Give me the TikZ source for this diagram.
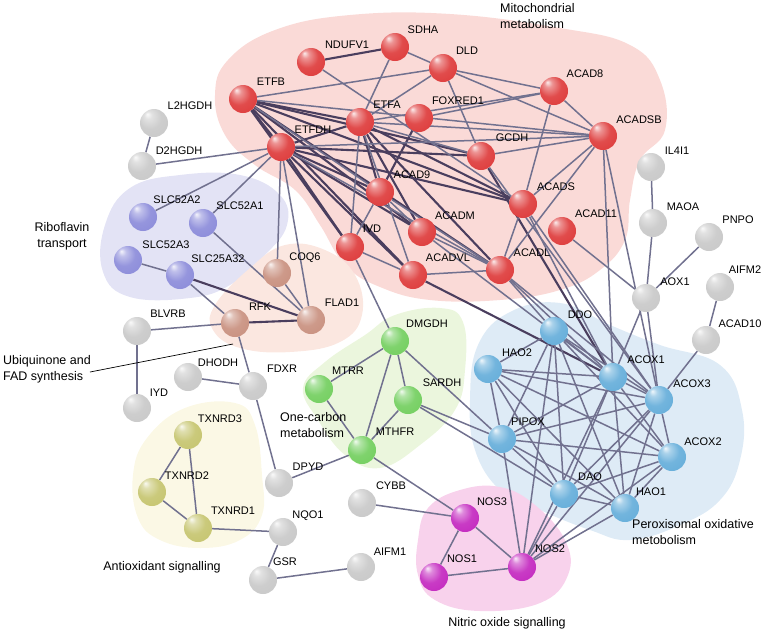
\documentclass[tikz,border=0pt]{standalone}
\usepackage{fontspec}
\setmainfont{Liberation Sans}
\pgfdeclarelayer{bg}\pgfdeclarelayer{edges}
\pgfsetlayers{bg,edges,main}
\makeatletter
\pgfdeclareradialshading[tikz@ball]{sphere}{\pgfqpoint{-12bp}{16bp}}{%
  color(0bp)=(tikz@ball!10!white); color(7bp)=(tikz@ball!55!white);
  color(20bp)=(tikz@ball!92!white); color(36bp)=(tikz@ball);
  color(45bp)=(tikz@ball!78!black); color(50bp)=(tikz@ball!55!black)}
\makeatother
\definecolor{cred}{HTML}{DE3C3C}
\definecolor{cgray}{HTML}{C9C9C9}
\definecolor{clav}{HTML}{8C8CDA}
\definecolor{cbrown}{HTML}{C99180}
\definecolor{cgreen}{HTML}{74CF60}
\definecolor{cyel}{HTML}{C6C570}
\definecolor{cblue}{HTML}{66AEDA}
\definecolor{cmag}{HTML}{C42AC0}
\definecolor{bred}{HTML}{FADAD7}
\definecolor{blav}{HTML}{E3E3F5}
\definecolor{bpeach}{HTML}{FBE7E0}
\definecolor{bgreen}{HTML}{EBF6DD}
\definecolor{byel}{HTML}{FBF8E5}
\definecolor{bblue}{HTML}{DEEBF6}
\definecolor{bpink}{HTML}{F8D2EC}
\definecolor{edgec}{HTML}{71718F}
\definecolor{edged}{HTML}{4A3E5E}
\begin{document}
\begin{tikzpicture}[x=1pt,y=-1pt,
  ball/.style={circle,minimum size=28pt,inner sep=0pt,ball color=#1,shading=sphere},
  lab/.style={font=\fontsize{11}{13}\selectfont,inner sep=0pt},
  rlab/.style={font=\fontsize{12.5}{16}\selectfont,inner sep=0pt},
  ee/.style={draw=edgec,line width=1.5pt},
  EE/.style={draw=edged,line width=2.1pt}]
\useasboundingbox (0,0) rectangle (784,633);
% ---- nodes
\foreach \n/\x/\y in {NDUFV1/311/62,SDHA/395/47,DLD/443/68,ETFB/243/99,ETFA/360/122,FOXRED1/419/118,ETFDH/281/147,GCDH/481/156,ACAD8/554/91,ACADSB/603/136,ACAD9/380/192,ACADS/523/204,ACAD11/562/231,ACADM/422/232,IVD/350/247,ACADVL/413/275,ACADL/500/270}
  \node[ball=cred] (\n) at (\x,\y) {};
\foreach \n/\x/\y in {L2HGDH/154/123,D2HGDH/142/166,BLVRB/137/331,IYD/137/408,DHODH/188/377,FDXR/253/386,DPYD/279/483,NQO1/283/532,GSR/263/580,AIFM1/361/567,CYBB/362/503,IL4I1/651/167,MAOA/653/223,PNPO/709/237,AOX1/646/298,AIFM2/720/287,ACAD10/706/340}
  \node[ball=cgray] (\n) at (\x,\y) {};
\foreach \n/\x/\y in {SLC52A2/143/217,SLC52A1/203/223,SLC52A3/128/260,SLC25A32/180/275}
  \node[ball=clav] (\n) at (\x,\y) {};
\foreach \n/\x/\y in {COQ6/277/273,RFK/235/323,FLAD1/311/320}
  \node[ball=cbrown] (\n) at (\x,\y) {};
\foreach \n/\x/\y in {DMGDH/395/341,MTRR/319/389,SARDH/408/400,MTHFR/362/450}
  \node[ball=cgreen] (\n) at (\x,\y) {};
\foreach \n/\x/\y in {TXNRD3/188/435,TXNRD2/152/492,TXNRD1/198/528}
  \node[ball=cyel] (\n) at (\x,\y) {};
\foreach \n/\x/\y in {DDO/554/331,HAO2/488/369,ACOX1/613/377,ACOX3/659/400,PIPOX/502/439,ACOX2/672/457,DAO/564/494,HAO1/625/508}
  \node[ball=cblue] (\n) at (\x,\y) {};
\foreach \n/\x/\y in {NOS3/465/518,NOS1/434/577,NOS2/522/567}
  \node[ball=cmag] (\n) at (\x,\y) {};
% ---- labels
\foreach \n/\x/\y in {NDUFV1/347/45,SDHA/423/30,DLD/467/51,ETFB/271/82,ETFA/387/105,FOXRED1/458/101,ETFDH/313/130,GCDH/512/138,ACAD8/585/74,ACADSB/639/120,ACAD9/412/175,ACADS/556/187,ACAD11/596/214,ACADM/455/216,IVD/372/229,ACADVL/448/258,ACADL/532/253,L2HGDH/190/106,D2HGDH/179/151,SLC52A2/177/200,SLC52A1/240/206,SLC52A3/166/245,SLC25A32/218/259,COQ6/305/258,RFK/260/307,FLAD1/342/303,BLVRB/168/314,IYD/159/393,DHODH/218/363,FDXR/282/369,DPYD/308/467,NQO1/308/516,GSR/285/562,AIFM1/390/552,CYBB/391/486,TXNRD3/220/419,TXNRD2/187/476,TXNRD1/233/511,DMGDH/427/324,MTRR/348/371,SARDH/442/383,MTHFR/395/432,IL4I1/677/151,MAOA/683/207,PNPO/738/220,AOX1/675/282,AIFM2/745/270,ACAD10/740/324,DDO/580/315,HAO2/517/353,ACOX1/646/360,ACOX3/692/384,PIPOX/528/422,ACOX2/703/442,DAO/590/477,HAO1/651/492,NOS3/492/502,NOS1/462/559,NOS2/550/549}
  \node[lab] (l\n) at (\x,\y) {\n};
% ---- region labels
\node[rlab,anchor=west,align=left] (rMito) at (500,16) {Mitochondrial\\metabolism};
\node[rlab,align=center] (rRibo) at (62,236) {Riboflavin\\transport};
\node[rlab,anchor=west,align=left] (rUbq) at (3,369) {Ubiquinone and\\FAD synthesis};
\node[rlab,anchor=west,align=left] (rOne) at (280,425) {One-carbon\\metabolism};
\node[rlab] (rAnti) at (162,567) {Antioxidant signalling};
\node[rlab] (rNitric) at (507,623) {Nitric oxide signalling};
\node[rlab,anchor=west,align=left] (rPerox) at (632,532) {Peroxisomal oxidative\\metobolism};
\coordinate (ubqA) at (90,372);
\coordinate (ubqB) at (233,344);
\draw[black,line width=0.7pt] (ubqA) -- (ubqB);
% ---- edges
\begin{pgfonlayer}{edges}
\foreach \a/\b in {ETFB/ETFDH,ETFB/ETFA,ETFA/ETFDH,FOXRED1/ACAD9,ETFA/ACAD9,ETFB/ACADM,ETFB/ACADS,ETFB/ACADL,ETFB/ACADVL,ETFB/IVD,ETFB/GCDH,ETFDH/ACADM,ETFDH/ACADVL,ETFDH/ACADS,ETFDH/IVD,ETFDH/GCDH,ETFDH/ACAD9,ETFA/ACADM,ETFA/ACADS,ETFA/ACADL,NDUFV1/SDHA,ACADVL/ACOX1,GCDH/ACOX1,SLC25A32/FLAD1,RFK/FLAD1}
  \draw[EE] (\a) -- (\b);
\foreach \a/\b in {NDUFV1/ACADS,SDHA/DLD,SDHA/ETFA,DLD/ETFB,DLD/ETFA,DLD/GCDH,DLD/ACAD8,DLD/ACADSB,FOXRED1/ACAD8,ETFA/ACAD8,ETFA/ACADSB,ETFA/GCDH,ETFA/IVD,ETFA/ACADVL,ETFB/ACAD9,ETFB/ACADSB,ETFDH/ACADL,ETFDH/ACADSB,ACAD8/ACADSB,ACAD8/ACADS,GCDH/ACADSB,ACADSB/ACADS,ACADSB/ACADL,ACADS/ACADL,ACAD9/IVD,ACAD9/ACADM,ACAD9/ACADL,ACADM/ACADL,ACADVL/ACADL,IVD/ACADVL,IVD/DMGDH,ETFDH/D2HGDH,L2HGDH/D2HGDH,ETFDH/SLC52A2,ETFDH/SLC52A1,ETFDH/COQ6,ETFDH/FLAD1,ACADL/ACOX1,ACADL/ACOX3,ACADL/DDO,ACADS/ACOX1,ACADS/ACOX3,ACADSB/ACOX1,ACADSB/ACOX3,ACAD11/AOX1,GCDH/ACOX3,ACADM/ACOX1,SLC52A1/FLAD1,SLC52A3/SLC25A32,SLC25A32/RFK,COQ6/FLAD1,RFK/BLVRB,BLVRB/IYD,RFK/FDXR,DHODH/FDXR,FDXR/DPYD,DPYD/MTHFR,DMGDH/SARDH,DMGDH/MTRR,DMGDH/MTHFR,SARDH/MTHFR,MTRR/MTHFR,MTHFR/NOS3,DMGDH/PIPOX,SARDH/PIPOX,SARDH/DAO,TXNRD3/TXNRD2,TXNRD3/TXNRD1,TXNRD2/TXNRD1,TXNRD1/NQO1,NQO1/GSR,GSR/AIFM1,CYBB/NOS3,NOS3/NOS1,NOS3/NOS2,NOS1/NOS2,IL4I1/MAOA,MAOA/AOX1,PNPO/AOX1,AIFM2/ACAD10,ACAD10/ACOX3,AOX1/ACOX1,AOX1/ACOX3,NOS2/PIPOX,NOS2/DDO,NOS2/DAO,NOS2/HAO1,NOS2/ACOX2,NOS2/ACOX1,NOS2/ACOX3,DDO/HAO2,DDO/ACOX1,DDO/ACOX3,DDO/PIPOX,DDO/ACOX2,DDO/DAO,DDO/HAO1,HAO2/ACOX1,HAO2/ACOX3,HAO2/PIPOX,HAO2/ACOX2,HAO2/DAO,HAO2/HAO1,ACOX1/ACOX3,ACOX1/PIPOX,ACOX1/ACOX2,ACOX1/DAO,ACOX1/HAO1,ACOX3/PIPOX,ACOX3/ACOX2,ACOX3/DAO,ACOX3/HAO1,PIPOX/ACOX2,PIPOX/DAO,PIPOX/HAO1,ACOX2/DAO,ACOX2/HAO1,DAO/HAO1}
  \draw[ee] (\a) -- (\b);
\end{pgfonlayer}
% ---- blobs
\begin{pgfonlayer}{bg}
\fill[bred] plot[smooth cycle,tension=0.7] coordinates {(228,60) (275,30) (350,15) (450,14) (560,28) (630,45) (660,80) (665,130) (640,160) (630,200) (625,240) (600,270) (560,290) (500,300) (430,300) (380,287) (345,265) (320,225) (295,190) (255,165) (225,135) (215,95)};
\fill[blav] plot[smooth cycle,tension=0.7] coordinates {(105,225) (130,188) (180,175) (240,175) (280,195) (287,225) (265,255) (230,285) (190,298) (130,297) (103,272)};
\fill[bpeach] plot[smooth cycle,tension=0.7] coordinates {(215,305) (250,268) (285,245) (325,250) (355,275) (362,315) (340,342) (290,352) (240,348) (213,330)};
\fill[bgreen] plot[smooth cycle,tension=0.7] coordinates {(303,388) (325,362) (365,335) (395,315) (440,308) (463,322) (465,370) (455,410) (420,445) (380,468) (345,455) (318,420)};
\fill[byel] plot[smooth cycle,tension=0.7] coordinates {(133,475) (147,438) (185,408) (235,403) (255,425) (262,475) (262,515) (240,540) (200,548) (160,540) (138,518)};
\fill[bblue] plot[smooth cycle,tension=0.7] coordinates {(478,345) (510,312) (560,303) (610,325) (660,345) (720,365) (742,410) (740,460) (720,500) (680,525) (630,540) (590,530) (540,510) (500,490) (475,450) (470,400)};
\fill[bpink] plot[smooth cycle,tension=0.7] coordinates {(418,540) (428,508) (460,490) (500,487) (535,505) (565,540) (568,575) (540,603) (480,611) (435,600) (418,575)};
\end{pgfonlayer}
\end{tikzpicture}
\end{document}
